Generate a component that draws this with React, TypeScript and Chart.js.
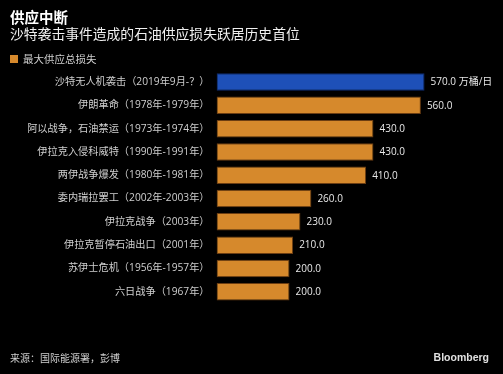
import React, { useEffect, useRef } from "react";
import { Chart, registerables } from "chart.js";

Chart.register(...registerables);

const categories = [
  "沙特无人机袭击（2019年9月-？）",
  "伊朗革命（1978年-1979年）",
  "阿以战争，石油禁运（1973年-1974年）",
  "伊拉克入侵科威特（1990年-1991年）",
  "两伊战争爆发（1980年-1981年）",
  "委内瑞拉罢工（2002年-2003年）",
  "伊拉克战争（2003年）",
  "伊拉克暂停石油出口（2001年）",
  "苏伊士危机（1956年-1957年）",
  "六日战争（1967年）",
];
const values = [570, 560, 430, 430, 410, 260, 230, 210, 200, 200];
const valueLabels = values.map((v, i) => (i === 0 ? v.toFixed(1) + " 万桶/日" : v.toFixed(1)));
const title = "供应中断";
const subtitle = "沙特袭击事件造成的石油供应损失跃居历史首位";
const legendLabel = "最大供应总损失";
const source = "来源：国际能源署，彭博";
const brand = "Bloomberg";

const ORANGE = "#d6892c";
const ORANGE_BORDER = "#6b3d12";
const BLUE = "#1e50b8";
const BLUE_BORDER = "#0f2c6e";
const CJK = "'Noto Sans CJK SC', sans-serif";
const NUM = "'Open Sans', 'Noto Sans CJK SC', sans-serif";

export default function App() {
  const ref = useRef<HTMLCanvasElement | null>(null);
  useEffect(() => {
    document.body.style.margin = "0";
    document.body.style.background = "#000";
    const canvas = ref.current!;
    const decor = {
      id: "decor",
      afterDatasetsDraw(chart: any) {
        const ctx = chart.ctx;
        ctx.save();
        ctx.textBaseline = "middle";
        ctx.textAlign = "left";
        // value labels
        const meta = chart.getDatasetMeta(0);
        ctx.font = "10px " + NUM;
        ctx.fillStyle = "#e8e8e8";
        meta.data.forEach((bar: any, i: number) => {
          ctx.fillText(valueLabels[i], bar.x + 6, bar.y + 0.5);
        });
        // title
        ctx.fillStyle = "#ffffff";
        ctx.font = "bold 14.5px " + CJK;
        ctx.fillText(title, 10, 17);
        ctx.font = "13.8px " + CJK;
        ctx.fillStyle = "#f0f0f0";
        ctx.fillText(subtitle, 10, 34);
        // legend
        ctx.fillStyle = ORANGE;
        ctx.fillRect(10, 55, 8, 8);
        ctx.font = "10.5px " + CJK;
        ctx.fillStyle = "#cfcfcf";
        ctx.fillText(legendLabel, 23, 59.5);
        // footer
        ctx.font = "10px " + CJK;
        ctx.fillStyle = "#cfcfcf";
        ctx.fillText(source, 10, 358);
        ctx.font = "bold 10.5px 'Liberation Sans', Arial, sans-serif";
        ctx.fillStyle = "#e0e0e0";
        ctx.textAlign = "right";
        ctx.fillText(brand, 489, 358);
        ctx.restore();
      },
    };
    const chart = new Chart(canvas, {
      type: "bar",
      data: {
        labels: categories,
        datasets: [
          {
            data: values,
            backgroundColor: values.map((_, i) => (i === 0 ? BLUE : ORANGE)),
            borderColor: values.map((_, i) => (i === 0 ? BLUE_BORDER : ORANGE_BORDER)),
            borderWidth: 1,
            borderSkipped: false,
            categoryPercentage: 1,
            barPercentage: 0.75,
          },
        ],
      },
      options: {
        indexAxis: "y",
        animation: false,
        responsive: false,
        maintainAspectRatio: false,
        layout: { padding: { left: 0, right: 31, top: 70.4, bottom: 70.6 } },
        plugins: { legend: { display: false }, tooltip: { enabled: false } },
        scales: {
          x: { display: false, min: 0, max: 700 },
          y: {
            grid: { display: false, drawTicks: false },
            border: { display: false },
            afterFit: (scale: any) => {
              scale.width = 216.5;
            },
            ticks: {
              color: "#cfcfcf",
              padding: 7,
              font: { size: 10.2, family: NUM },
            },
          },
        },
      },
      plugins: [decor],
    });
    return () => chart.destroy();
  }, []);
  return (
    <div style={{ width: 503, height: 374, background: "#000" }}>
      <canvas ref={ref} width={503} height={374} style={{ display: "block" }} />
    </div>
  );
}
